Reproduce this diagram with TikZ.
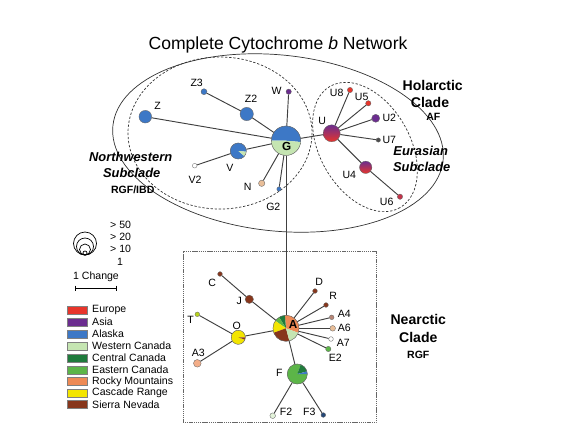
\documentclass[tikz,border=0pt]{standalone}
\usepackage{fontspec}
\setmainfont{Liberation Sans}
\usepackage{tikz}
\definecolor{europe}{HTML}{E8352B}
\definecolor{asia}{HTML}{6B2D8F}
\definecolor{alaska}{HTML}{3D78C6}
\definecolor{wcanada}{HTML}{C5E5B2}
\definecolor{ccanada}{HTML}{1F7B3C}
\definecolor{ecanada}{HTML}{5CB548}
\definecolor{rocky}{HTML}{EE8A55}
\definecolor{cascade}{HTML}{F3E500}
\definecolor{sierra}{HTML}{87361C}
\definecolor{tan}{HTML}{E9BE98}
\newcommand{\pieslice}[5]{\fill[#5] (#1.center) -- ++(#3:#2) arc[start angle=#3,end angle=#4,radius=#2] -- cycle;}
\newcommand{\pierim}[2]{\draw[black!60,line width=0.3pt] (#1.center) circle[radius=#2];}

\begin{document}
\begin{tikzpicture}[x=0.3mm,y=-0.3mm]
		\tikzstyle{hap}=[circle,draw=black!60,line width=0.3pt,inner sep=0pt]
		\tikzstyle{lab}=[font=\fontsize{9}{10}\selectfont,inner sep=0pt]
		\tikzstyle{link}=[draw=black!75,line width=0.8pt]
		\tikzstyle{clade}=[font=\fontsize{12}{13}\selectfont\bfseries,inner sep=0pt]
		\tikzstyle{subclade}=[font=\fontsize{11}{12}\selectfont\bfseries\itshape,inner sep=0pt]
		\tikzstyle{code}=[font=\fontsize{9}{10}\selectfont\bfseries,inner sep=0pt]
		\tikzstyle{key}=[draw=black!50,line width=0.3pt,rectangle,minimum width=6mm,minimum height=2.4mm,inner sep=0pt]
		\tikzstyle{keytext}=[font=\fontsize{9}{10}\selectfont,anchor=west,inner sep=0pt]
		\useasboundingbox (0,0) rectangle (570,433);
		
		\node[font=\fontsize{15}{17}\selectfont] (title) at (278,45) {Complete Cytochrome \textit{b} Network};
		
		% clades
		\draw[black!80,line width=0.6pt,rotate around={-6:(278,143)}] (278,143) ellipse[x radius=166,y radius=88];
		\draw[black!80,line width=0.6pt,dash pattern=on 2pt off 1.5pt] (220,133) ellipse[x radius=92,y radius=76];
		\draw[black!80,line width=0.6pt,dash pattern=on 2pt off 1.5pt,rotate around={-60:(365,147)}] (365,147) ellipse[x radius=70,y radius=45];
		\draw[black!60,line width=0.4pt,dash pattern=on 1pt off 0.6pt] (183.3,251.7) rectangle (376,422.7);
		
		% Holarctic haplotypes
		\node[hap,minimum size=8.8mm] (G) at (286,140.7) {};
		\node[hap,fill=alaska,minimum size=3.8mm] (Z) at (145.3,116.7) {};
		\node[hap,fill=alaska,minimum size=1.8mm] (Z3) at (204,91.7) {};
		\node[hap,fill=alaska,minimum size=4mm] (Z2) at (246.7,114) {};
		\node[hap,fill=asia,minimum size=1.6mm] (W) at (288.7,91.7) {};
		\node[hap,minimum size=4.8mm] (V) at (238.3,151) {};
		\node[hap,fill=white,minimum size=1.4mm] (V2) at (194.7,165.7) {};
		\node[hap,fill=tan,minimum size=1.9mm] (N) at (261.7,183.3) {};
		\node[hap,fill=alaska,minimum size=1.3mm] (G2) at (279,189) {};
		
		\node[hap,top color=asia,bottom color=europe,minimum size=5.1mm] (U) at (331.7,133.3) {};
		\node[hap,fill=europe,minimum size=1.6mm] (U8) at (350,90) {};
		\node[hap,fill=europe,minimum size=1.6mm] (U5) at (368.3,103.3) {};
		\node[hap,fill=asia,minimum size=2.4mm] (U2) at (375.7,118.3) {};
		\node[hap,fill=black!70,minimum size=1.3mm] (U7) at (378.3,140) {};
		\node[hap,top color=asia,bottom color=europe,minimum size=3.7mm] (U4) at (365.7,167.3) {};
		\node[hap,fill=europe!70!asia,minimum size=1.6mm] (U6) at (400,196.7) {};
		
		\pieslice{G}{4.4mm}{-5}{180}{alaska}
		\pieslice{G}{4.4mm}{180}{355}{wcanada}
		\pierim{G}{4.4mm}
		\pieslice{V}{2.4mm}{-5}{320}{alaska}
		\pieslice{V}{2.4mm}{320}{355}{wcanada}
		\pierim{V}{2.4mm}
		
		\draw[link] (Z) -- (G);
		\draw[link] (Z3) -- (Z2);
		\draw[link] (Z2) -- (G);
		\draw[link] (W) -- (G);
		\draw[link] (V2) -- (V);
		\draw[link] (V) -- (G);
		\draw[link] (N) -- (G);
		\draw[link] (G2) -- (G);
		\draw[link] (G) -- (U);
		\draw[link] (U) -- (U8);
		\draw[link] (U) -- (U5);
		\draw[link] (U) -- (U2);
		\draw[link] (U) -- (U7);
		\draw[link] (U) -- (U4);
		\draw[link] (U4) -- (U6);
		
		\node[lab,font=\fontsize{10}{11}\selectfont\bfseries] (Glab) at (286.7,146.7) {G};
		\node[lab] (Zlab) at (157.7,106) {Z};
		\node[lab] (Z3lab) at (196.7,82.7) {Z3};
		\node[lab] (Z2lab) at (251,98.7) {Z2};
		\node[lab] (Wlab) at (276.7,90.7) {W};
		\node[lab] (Vlab) at (230,168.3) {V};
		\node[lab] (V2lab) at (195,180) {V2};
		\node[lab] (Nlab) at (247.7,187.3) {N};
		\node[lab] (G2lab) at (273.3,206.7) {G2};
		\node[lab] (Ulab) at (322.3,121) {U};
		\node[lab] (U8lab) at (336.7,93.3) {U8};
		\node[lab] (U5lab) at (361.7,96.7) {U5};
		\node[lab] (U2lab) at (389.3,118.3) {U2};
		\node[lab] (U7lab) at (389.3,140) {U7};
		\node[lab] (U4lab) at (349.3,175) {U4};
		\node[lab] (U6lab) at (386.7,201.7) {U6};
		
		\node[clade] (holarctic) at (432.7,85) {Holarctic};
		\node[clade] (holclade) at (430,102.7) {Clade};
		\node[code] (af) at (433.3,116.7) {AF};
		\node[subclade] (nw) at (130.7,156.7) {Northwestern};
		\node[subclade] (nwsub) at (131.7,173.3) {Subclade};
		\node[code] (rgfibd) at (132.7,190) {RGF/IBD};
		\node[subclade] (eur) at (420.7,150.7) {Eurasian};
		\node[subclade] (eursub) at (421.7,166.7) {Subclade};
		
		% Nearctic haplotypes
		\node[hap,minimum size=7.8mm] (A) at (286,328.3) {};
		\node[hap,fill=sierra,minimum size=1.4mm] (C) at (220,274) {};
		\node[hap,fill=sierra,minimum size=2.5mm] (J) at (249.3,299.3) {};
		\node[hap,fill=sierra,minimum size=1.4mm] (D) at (315,291) {};
		\node[hap,fill=sierra,minimum size=1.4mm] (R) at (326,305) {};
		\node[hap,fill=sierra!60!white,minimum size=1.4mm] (A4) at (331.7,317.3) {};
		\node[hap,fill=tan,minimum size=1.7mm] (A6) at (332.7,328.3) {};
		\node[hap,fill=white,minimum size=1.4mm] (A7) at (331,339) {};
		\node[hap,fill=ecanada,minimum size=1.6mm] (E2) at (328.3,349) {};
		\node[hap,fill=cascade!60!ecanada,minimum size=1.4mm] (T) at (197.3,314.3) {};
		\node[hap,minimum size=4.2mm] (O) at (238.3,337.3) {};
		\node[hap,fill=rocky!70!white,minimum size=2.3mm] (A3) at (197.3,363.3) {};
		\node[hap,minimum size=6mm] (F) at (297.3,374) {};
		\node[hap,fill=wcanada!50!white,minimum size=1.7mm] (F2) at (272.7,415.7) {};
		\node[hap,fill=alaska!60!black,minimum size=1.4mm] (F3) at (323.3,415) {};
		
		\pieslice{A}{3.9mm}{-20}{95}{rocky}
		\pieslice{A}{3.9mm}{95}{122}{ccanada}
		\pieslice{A}{3.9mm}{122}{145}{ecanada}
		\pieslice{A}{3.9mm}{145}{200}{cascade}
		\pieslice{A}{3.9mm}{200}{285}{sierra}
		\pieslice{A}{3.9mm}{285}{340}{wcanada}
		\pierim{A}{3.9mm}
		\pieslice{O}{2.1mm}{0}{340}{cascade}
		\pieslice{O}{2.1mm}{340}{360}{sierra}
		\pierim{O}{2.1mm}
		\pieslice{F}{3mm}{70}{360}{ecanada}
		\pieslice{F}{3mm}{15}{70}{ccanada}
		\pieslice{F}{3mm}{0}{15}{alaska}
		\pierim{F}{3mm}
		
		\draw[link] (G) -- (A);
		\draw[link] (C) -- (J);
		\draw[link] (J) -- (A);
		\draw[link] (A) -- (D);
		\draw[link] (A) -- (R);
		\draw[link] (A) -- (A4);
		\draw[link] (A) -- (A6);
		\draw[link] (A) -- (A7);
		\draw[link] (A) -- (E2);
		\draw[link] (T) -- (O);
		\draw[link] (A3) -- (O);
		\draw[link] (O) -- (A);
		\draw[link] (A) -- (F);
		\draw[link] (F) -- (F2);
		\draw[link] (F) -- (F3);
		
		\node[lab,font=\fontsize{10}{11}\selectfont\bfseries] (Alab) at (293,324) {A};
		\node[lab] (Clab) at (212.3,282.7) {C};
		\node[lab] (Jlab) at (239.3,300.7) {J};
		\node[lab] (Dlab) at (319.3,282.3) {D};
		\node[lab] (Rlab) at (333.3,296) {R};
		\node[lab] (A4lab) at (344.3,314.3) {A4};
		\node[lab] (A6lab) at (344.3,328.3) {A6};
		\node[lab] (A7lab) at (343.3,343.3) {A7};
		\node[lab] (E2lab) at (335.3,357.7) {E2};
		\node[lab] (Tlab) at (190.7,320) {T};
		\node[lab] (Olab) at (236.7,326) {O};
		\node[lab] (A3lab) at (198.3,352.7) {A3};
		\node[lab] (Flab) at (279.3,373.3) {F};
		\node[lab] (F2lab) at (286,411.7) {F2};
		\node[lab] (F3lab) at (309.3,411.7) {F3};
		
		\node[clade] (nearctic) at (418.3,319.3) {Nearctic};
		\node[clade] (nearclade) at (418.3,337.3) {Clade};
		\node[code] (rgf) at (418.3,355) {RGF};
		
		% size and scale legend
		\draw[line width=0.6pt] (85,243.5) circle[radius=11.5];
		\draw[line width=0.6pt] (85,246.5) circle[radius=8.5];
		\draw[line width=0.6pt] (85,249.5) circle[radius=5.5];
		\draw[line width=0.6pt] (85,253) circle[radius=2];
		\node[keytext] (s50) at (110,225) {> 50};
		\node[keytext] (s20) at (110,237.3) {> 20};
		\node[keytext] (s10) at (110,249.3) {> 10};
		\node[keytext,anchor=center] (s1) at (120,261.7) {1};
		\node[keytext,anchor=center] (change) at (96,276.7) {1 Change};
		\draw[line width=0.5pt] (75,288.3) -- (116,288.3);
		\draw[line width=0.5pt] (75,285.5) -- (75,291);
		\draw[line width=0.5pt] (116,285.5) -- (116,291);
		
		% colour key
		\node[key,fill=europe] (kEurope) at (76.7,310) {};
		\node[key,fill=asia] (kAsia) at (76.7,322) {};
		\node[key,fill=alaska] (kAlaska) at (76.7,334) {};
		\node[key,fill=wcanada] (kWestern) at (76.7,346) {};
		\node[key,fill=ccanada] (kCentral) at (76.7,358) {};
		\node[key,fill=ecanada] (kEastern) at (76.7,370) {};
		\node[key,fill=rocky] (kRocky) at (76.7,381.5) {};
		\node[key,fill=cascade] (kCascade) at (76.7,393) {};
		\node[key,fill=sierra] (kSierra) at (76.7,404.5) {};
		\node[keytext] at (92,310) {Europe};
		\node[keytext] at (92,322) {Asia};
		\node[keytext] at (92,334) {Alaska};
		\node[keytext] at (92,346) {Western Canada};
		\node[keytext] at (92,358) {Central Canada};
		\node[keytext] at (92,370) {Eastern Canada};
		\node[keytext] at (92,381.5) {Rocky Mountains};
		\node[keytext] at (92,393) {Cascade Range};
		\node[keytext] at (92,404.5) {Sierra Nevada};
\end{tikzpicture}
\end{document}
